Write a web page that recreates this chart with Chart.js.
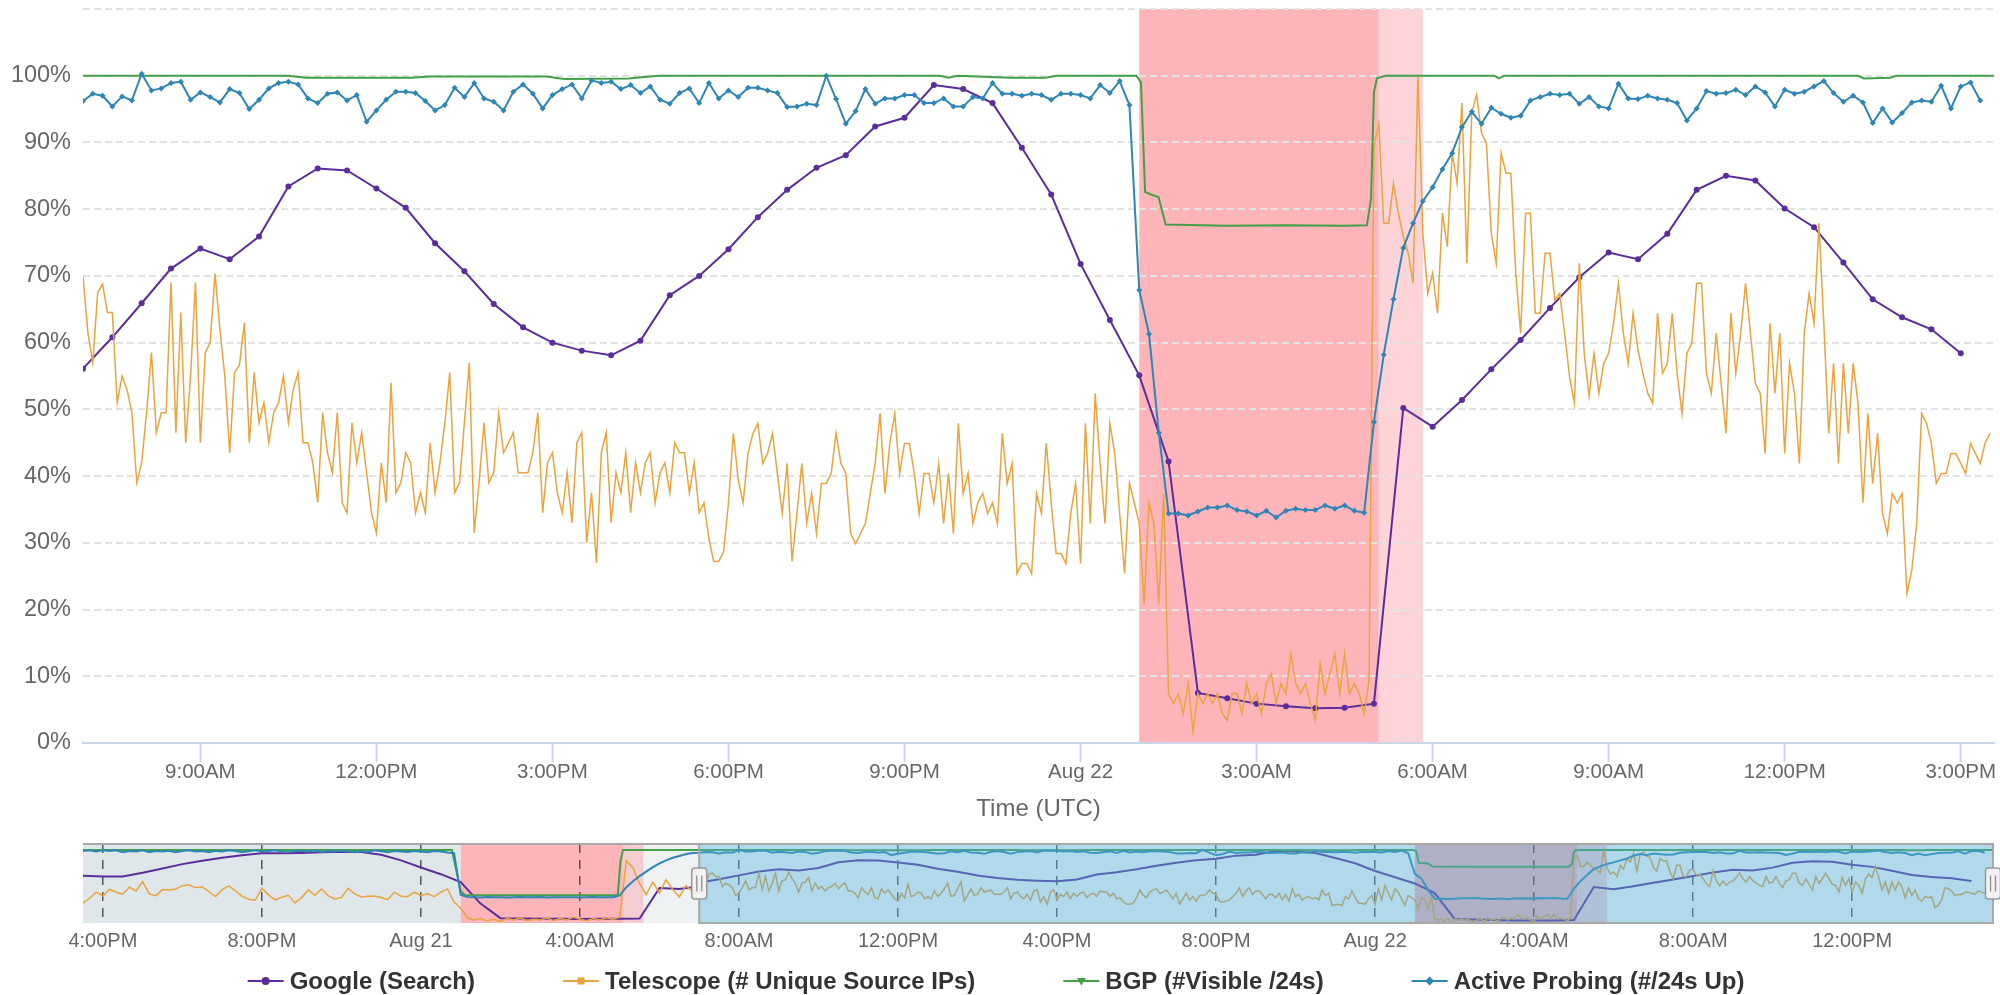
<!DOCTYPE html>
<html>
<head>
<meta charset="utf-8">
<title>IODA signals</title>
<script src="https://cdn.jsdelivr.net/npm/chart.js@4.4.1/dist/chart.umd.min.js"></script>
<style>
  html, body { margin: 0; padding: 0; background: #fff; }
  #wrap { position: relative; width: 2000px; height: 995px; overflow: hidden; }
  #main { position: absolute; left: 0; top: 0; }
  #nav { position: absolute; left: 0; top: 830px; }
</style>
</head>
<body>
<div id="wrap">
  <canvas id="main" width="2000" height="830"></canvas>
  <canvas id="nav" width="2000" height="165"></canvas>
</div>
<script>
// all times are hours counted from Aug 21 00:00 UTC (negative = Aug 20)
const mainStart = 7;        // Aug 21 07:00
const mainEnd = 39.567;     // Aug 22 ~15:34
const navStart = -8.5;      // Aug 20 15:30

const mainTickValues = [9, 12, 15, 18, 21, 24, 27, 30, 33, 36, 39];
const mainTickLabels = ['9:00AM', '12:00PM', '3:00PM', '6:00PM', '9:00PM', 'Aug 22', '3:00AM', '6:00AM', '9:00AM', '12:00PM', '3:00PM'];
const navTickValues = [-8, -4, 0, 4, 8, 12, 16, 20, 24, 28, 32, 36];
const navTickLabels = ['4:00PM', '8:00PM', 'Aug 21', '4:00AM', '8:00AM', '12:00PM', '4:00PM', '8:00PM', 'Aug 22', '4:00AM', '8:00AM', '12:00PM'];

// outage periods: start, end, end of recovery
const outages = [[1.0, 5.08, 5.6], [25.0, 29.083, 29.833]];

const seriesNames = ['Google (Search)', 'Telescope (# Unique Source IPs)', 'BGP (#Visible /24s)', 'Active Probing (#/24s Up)'];

// Google (Search), every 30 min from Aug 21 07:00
const googleValues = [
  56.1, 60.8, 65.9, 71.1, 74.1, 72.5, 75.9, 83.4, 86.1, 85.8,
  83.1, 80.2, 74.9, 70.7, 65.8, 62.3, 60.0, 58.8, 58.1, 60.3,
  67.1, 70.0, 74.0, 78.8, 82.9, 86.2, 88.1, 92.4, 93.7, 98.6,
  98.0, 95.9, 89.2, 82.2, 71.8, 63.4, 55.1, 42.2, 7.5, 6.7,
  5.9, 5.5, 5.2, 5.3, 5.9, 50.2, 47.4, 51.4, 56.0, 60.4,
  65.2, 69.8, 73.5, 72.5, 76.3, 82.9, 85.0, 84.3, 80.1, 77.3,
  72.0, 66.5, 63.8, 62.0, 58.4
];

// Telescope, every 5 min from Aug 21 07:00
const telescopeValues = [
  69.9, 61.5, 57, 67.5, 68.8, 64.5, 64.5, 51, 55, 53,
  49.5, 39, 42, 49.5, 58.5, 46.5, 49.5, 49.5, 69, 46.5,
  64.5, 45, 55, 69, 45, 58.5, 60, 70.3, 62, 55,
  43.5, 55.5, 56.7, 63, 45, 55.5, 48, 51, 45, 49.5,
  51, 55, 48, 53, 55.5, 45, 45, 42, 36, 49.5,
  43.5, 40.5, 49.5, 36, 34.5, 48, 42, 46.5, 40.5, 34.5,
  31.5, 42, 36, 54, 37.5, 39, 43.5, 42, 34.5, 37.5,
  34.5, 45, 37.5, 42, 48, 55.5, 37.5, 39, 48, 57,
  31.5, 39, 48, 39, 40.5, 49.5, 43.5, 45, 46.5, 40.5,
  40.5, 40.5, 43.5, 49.5, 34.5, 42, 43.5, 37.5, 34.5, 40.5,
  33, 45, 46.5, 30, 37.5, 27, 43.5, 46.5, 33, 40.5,
  37.5, 43.5, 34.5, 42, 37.5, 42, 43.5, 36, 40.5, 42,
  37.5, 45, 43.5, 43.5, 37.5, 42, 34.5,
  // 17:35
  36, 30.5, 27.2, 27.2, 28.7, 36, 46.4, 39.4, 36, 43.4,
  46.4, 47.9, 41.9, 43.4, 46.4, 40.4, 34.4, 41.9, 27.2, 34.4,
  41.9, 32.9, 37.4, 31.4, 38.9, 38.9, 40.4, 46.4, 41.9, 40.4,
  31.4, 29.9, 31.4, 32.9, 37.4, 41.9, 49.4, 37.4, 44.9, 49.4,
  40.4, 44.9, 44.9, 40.4, 34.4, 40.4, 40.4, 36, 41.9, 32.9,
  40.4, 31.4, 47.9, 37.4, 40.4, 32.9, 36, 37.4, 34.4, 36,
  32.9, 46.4, 38.9, 41.9, 25.4, 26.9, 26.9, 25.4, 37.4, 34.4,
  44.9, 36, 28.4, 28.4, 26.9, 34.4, 38.9, 26.9, 47.9, 32.9,
  52.4, 41.9, 32.9, 47.9, 43.4, 34.4, 25.4, 38.9, 36, 32.9,
  20.9, 36, 32.9, 20.9, 37.4, 7.4, 5.9, 7.4, 4.4, 8.9,
  1.7, 7.4, 5.9, 7.4, 5.9, 7.4, 4.4, 3.4, 7.4, 7.4,
  4.4, 8.9, 5.9, 7.4, 4.4, 8.9, 10.4, 5.9, 8.9, 7.4,
  13.4, 8.9, 7.4, 8.9, 5.9, 3.4, 11.9, 7.4, 10.4, 13.4,
  7.4, 13.4, 7.4,
  // 04:40
  8.9, 7.4, 4.4, 9.4,
  // 05:00
  89.4, 92.8, 77.9, 77.9, 83.8, 79.4, 75.9, 73.4, 68.9, 100.1,
  76.4, 67.4, 70.4, 64.4, 79.4, 74.4, 88.4, 83.9, 95.9, 71.9,
  94.4, 97.2, 91.4, 89.9, 76.4, 71.9, 88.4, 85.4, 85.4, 70.4,
  61.4, 79.4, 79.4, 64.4, 64.4, 73.4, 73.4, 66.4, 67.4, 61.4,
  54.9, 50.9, 71.9, 58.4, 52, 58.4, 52.4, 56.9, 58.4, 62.9,
  68.9, 61.4, 56.9, 64.4, 58.9, 55.4, 52.4, 50.9, 64.4, 55.4,
  56.9, 64.4, 55.4, 49.4, 58.4, 59.9, 68.9, 68.9, 55.4, 52.4,
  61.4, 53.9, 46.4, 64.4, 55.4, 61.4, 68.9, 61.4, 53.9, 52.4,
  43.4, 62.9, 52.4, 61.4, 43.4, 56.9, 52.4, 41.9, 61.4, 67.4,
  62.9, 77.9, 62.9, 46.4, 56.9, 41.9, 56.9, 46.4, 56.9, 50.9,
  36, 49.4, 38.9, 46.4, 34.4, 31.4, 37.4, 36, 37.4, 22.4,
  25.9, 32.9, 49.4, 47.9, 44.9, 38.9, 40.4, 40.4, 43.4, 43.4,
  41.9, 40.4, 44.9, 43.4, 41.9, 45, 46.4
];

// BGP, irregular samples (hour, value)
const bgpTimes = [7.0, 10.5, 10.8, 12.6, 12.9, 14.9, 15.2, 16.3, 16.8, 21.6, 21.75, 21.9, 22.8, 23.4, 23.6,
  24.95, 25.03, 25.1, 25.2, 25.33, 25.45, 26.5, 27.5, 28.5, 28.88, 28.95, 29.0, 29.05, 29.2,
  31.05, 31.13, 31.22, 37.25, 37.35, 37.8, 37.9, 39.567];
const bgpValues = [100, 100, 99.7, 99.7, 99.9, 99.9, 99.5, 99.6, 100, 100, 99.7, 100, 99.7, 99.7, 100,
  100, 99, 82.6, 82.2, 81.8, 77.7, 77.5, 77.6, 77.5, 77.6, 81.5, 97.5, 99.6, 100,
  100, 99.6, 100, 100, 99.6, 99.7, 100, 100];

// Active Probing, every 10 min from Aug 21 07:00
const probingValues = [
  96.2, 97.3, 97.0, 95.4, 96.9, 96.3, 100.3, 97.8, 98.1, 98.9, 99.1, 96.4,
  97.5, 96.8, 96.0, 98.0, 97.4, 95.0, 96.4, 98.1, 98.9, 99.1, 98.7, 96.6,
  95.9, 97.3, 97.5, 96.3, 97.1, 93.1, 94.8, 96.4, 97.6, 97.6, 97.4, 96.2,
  94.8, 95.6, 98.2, 96.8, 98.9, 96.6, 96.1, 94.8, 97.6, 98.7, 97.3, 95.1,
  97.1, 98.0, 98.7, 96.6, 99.3, 98.9, 99.1, 98.0, 98.6, 97.4,
  98.4, 96.4, 95.8, 97.4, 98.1, 95.9, 98.9, 96.6, 97.8, 96.8, 98.2, 98.2,
  97.8, 97.4, 95.3, 95.4, 95.8, 95.6, 100.0, 96.5, 92.8, 94.7, 98.0, 95.8,
  96.6, 96.6, 97.1, 97.1, 95.9, 95.9, 96.6, 95.4, 95.4, 96.8, 96.6, 98.9,
  97.3, 97.3, 97.0, 97.3, 97.1, 96.4, 97.3, 97.3,
  // Aug 22 00:00
  97.1, 96.6, 98.6, 97.4, 99.2, 95.6, 67.9, 61.3, 46.5, 34.4, 34.4, 34.1,
  34.7, 35.3, 35.3, 35.6, 34.9, 34.7, 34.1, 34.8, 33.8, 34.8, 35.1, 34.9,
  34.9, 35.6, 35.1, 35.6, 34.8, 34.5,
  // 05:00
  48.1, 58.2, 66.5, 74.2, 77.9, 81.2, 83.3, 86.0, 88.4, 92.3, 94.6, 92.8,
  95.2, 94.3, 93.7, 94.0, 96.3, 96.8, 97.3, 97.1, 97.3, 95.8, 96.8, 95.4,
  95.1, 98.8, 96.6, 96.5, 97.0, 96.6, 96.4, 95.9, 93.3, 95.1, 97.7, 97.3,
  97.4, 97.9, 97.1, 98.4, 97.5, 95.4, 97.9, 97.3, 97.6, 98.4, 99.2, 97.4,
  96.1, 97.0, 96.0, 92.9, 95.1, 93.0, 94.4, 96.0, 96.3, 96.1, 98.5, 95.1,
  98.4, 99.0, 96.3
];

// navigator only: Aug 20 15:30 to Aug 21 07:00
const navGooglePre = [65.5, 64.5, 64.5, 69.5, 75, 81, 85.5, 89.5, 93, 95.5, 95.5, 96, 97, 97.7, 97.3,
  93.5, 86, 76.5, 67.5, 57, 28, 8.5, 8, 7.8, 7.6, 7.5, 7.6, 7.8, 8, 49, 47.5, 51];
const navTelescopePre = [
  28.5, 35.2, 43.3, 38.3, 47.3, 43.3, 40.6, 50, 45, 57.5,
  41, 38.7, 46.8, 46.4, 47.7, 52.1, 53, 49.5, 50.4, 44.1,
  37.4, 46.4, 51.7, 45, 37.9, 33.9, 32.5, 48.6, 39.7, 33,
  36.6, 39.2, 29, 36.1, 46.4, 39.2, 47.7, 38.7, 34.3, 36.1,
  48.6, 41, 37, 37.9, 38.3, 36.1, 33.4, 43.3, 37.9, 37.4,
  43.3, 38.7, 41.4, 37.4, 43.3, 47.7, 30,
  22, 9, 6, 8, 5, 7, 4, 8, 6, 9, 5, 7, 6, 9, 5, 8, 6, 10, 7, 5, 8, 6, 9, 7,
  10, 86, 76, 55, 40, 57, 42, 60, 47, 37, 52, 44
];
const navBgpTimes = [-8.5, 0.78, 0.9, 1.0, 1.1, 3.0, 4.95, 5.02, 5.08, 6.9];
const navBgpValues = [100, 99.8, 70, 45, 39.5, 39.3, 39.5, 85, 100, 100];
const navProbingPre = [
  98.7, 99.6, 97.8, 99.6, 98.7, 99.6, 96.9, 98.7, 97.8, 99.6,
  96.9, 98.7, 97.8, 98.9, 96.9, 98.7, 99.6, 97.8, 98.7, 96.9,
  98.9, 97.8, 99.6, 98.7, 96.9, 98.2, 99.6, 97.8, 98.7, 99.6,
  97.8, 96.9, 98.9, 98.7, 97.8, 99.6, 96.9, 98.7, 97.8, 98.9,
  97.8, 96.9, 98.7, 97.4, 99.6, 98.2, 96.9, 98.7, 97.8, 97.4,
  98.7, 97.8, 96.9, 98.7, 97.8, 96.5, 95.6,
  40, 37.0, 36.6, 36.3, 36.8, 36.4, 36.7, 36.2, 36.6, 36.9, 36.4, 36.5,
  36.8, 36.3, 36.6, 36.4, 36.7, 36.5, 36.2, 36.6, 36.8, 36.4, 36.5, 36.6,
  39, 50, 58, 65, 71, 77, 82, 86, 89.5, 92, 94.5, 96
];

const PURPLE = '#5b2d9c', ORANGE = '#eaa33f', GREEN = '#43a047', BLUE = '#2e86b7';
const legendShapes = ['circle', 'square', 'triangle', 'diamond'];

Chart.defaults.font.family = '"Liberation Sans", Arial, Helvetica, sans-serif';

function series(start, step, values) {
  return values.map((v, i) => ({ x: start + i * step, y: v }));
}
function pairs(times, values) {
  return times.map((t, i) => ({ x: t, y: values[i] }));
}

// shade outage periods behind the grid
const mainBands = {
  id: 'mainBands',
  beforeDraw(chart) {
    const { ctx, chartArea: a, scales: { x } } = chart;
    const band = (from, to, color) => {
      const l = x.getPixelForValue(from), r = x.getPixelForValue(to);
      ctx.fillStyle = color;
      ctx.fillRect(l, a.top, r - l, a.bottom - a.top);
    };
    ctx.save();
    ctx.beginPath();
    ctx.rect(a.left, a.top, a.right - a.left, a.bottom - a.top);
    ctx.clip();
    outages.forEach(([s, e, r]) => {
      band(s, e, '#fdb5ba');
      band(e, r, '#fed4d9');
    });
    ctx.restore();
  }
};

new Chart(document.getElementById('main'), {
  type: 'line',
  data: {
    datasets: [
      { label: seriesNames[0], data: series(7, 0.5, googleValues), borderColor: PURPLE, backgroundColor: PURPLE,
        borderWidth: 2, pointRadius: 3, pointBorderWidth: 0, order: 4 },
      { label: seriesNames[1], data: series(7, 1 / 12, telescopeValues), borderColor: ORANGE,
        borderWidth: 1.5, pointRadius: 0, order: 3 },
      { label: seriesNames[2], data: pairs(bgpTimes, bgpValues), borderColor: GREEN,
        borderWidth: 2, pointRadius: 0, order: 2 },
      { label: seriesNames[3], data: series(7, 1 / 6, probingValues), borderColor: BLUE, backgroundColor: BLUE,
        borderWidth: 2, pointRadius: 3, pointStyle: 'rectRot', pointBorderWidth: 0, order: 1 }
    ]
  },
  options: {
    responsive: false,
    animation: false,
    devicePixelRatio: 1,
    events: [],
    layout: { padding: { top: 9, right: 6, left: 0, bottom: 0 } },
    plugins: { legend: { display: false }, tooltip: { enabled: false } },
    scales: {
      x: {
        type: 'linear', min: mainStart, max: mainEnd,
        afterBuildTicks: s => { s.ticks = mainTickValues.map(v => ({ value: v })); },
        afterFit: s => { s.height = 87; s.paddingLeft = 0; s.paddingRight = 0; },
        ticks: { callback: (v, i) => mainTickLabels[i], color: '#666', font: { size: 20.5, lineHeight: 1 },
          padding: 0, autoSkip: false, maxRotation: 0 },
        grid: { drawOnChartArea: false, drawTicks: true, tickLength: 19, tickColor: '#ccd6eb', tickWidth: 2 },
        border: { display: true, color: '#ccd6eb', width: 2 },
        title: { display: true, text: 'Time (UTC)', color: '#666', font: { size: 24 }, padding: { top: 0, bottom: 6 } }
      },
      y: {
        min: 0, max: 110,
        afterFit: s => { s.width = 83; s.paddingTop = 0; s.paddingBottom = 0; },
        ticks: { stepSize: 10, callback: v => (v === 110 ? '' : v + '%'), color: '#666', font: { size: 23.5 }, padding: 12 },
        grid: { color: c => (c.tick.value === 0 ? 'rgba(0,0,0,0)' : '#e3e3e3'), lineWidth: 2, drawTicks: false },
        border: { display: false, dash: [7, 4] }
      }
    }
  },
  plugins: [mainBands]
});

// navigator: backdrop, selection mask, outline, handles and legend
function drawHandle(ctx, cx, cy) {
  const w = 15, h = 31;
  ctx.fillStyle = '#f2f2f2';
  ctx.strokeStyle = '#999';
  ctx.lineWidth = 1.5;
  ctx.beginPath();
  ctx.roundRect(cx - w / 2, cy - h / 2, w, h, 3);
  ctx.fill();
  ctx.stroke();
  ctx.beginPath();
  ctx.moveTo(cx - 2.5, cy - 8); ctx.lineTo(cx - 2.5, cy + 8);
  ctx.moveTo(cx + 2.5, cy - 8); ctx.lineTo(cx + 2.5, cy + 8);
  ctx.stroke();
}

function drawSymbol(ctx, shape, color, x, y) {
  ctx.strokeStyle = color;
  ctx.fillStyle = color;
  ctx.lineWidth = 2;
  ctx.beginPath();
  ctx.moveTo(x, y); ctx.lineTo(x + 36, y);
  ctx.stroke();
  const cx = x + 18;
  ctx.beginPath();
  if (shape === 'circle') ctx.arc(cx, y, 4, 0, Math.PI * 2);
  else if (shape === 'square') ctx.rect(cx - 3.5, y - 3.5, 7, 7);
  else if (shape === 'triangle') { ctx.moveTo(cx - 4.5, y - 3); ctx.lineTo(cx + 4.5, y - 3); ctx.lineTo(cx, y + 4.5); ctx.closePath(); }
  else { ctx.moveTo(cx, y - 4.5); ctx.lineTo(cx + 4.5, y); ctx.lineTo(cx, y + 4.5); ctx.lineTo(cx - 4.5, y); ctx.closePath(); }
  ctx.fill();
}

const navDecor = {
  id: 'navDecor',
  beforeDraw(chart) {
    const { ctx, chartArea: a, scales: { x } } = chart;
    const band = (from, to, color) => {
      const l = x.getPixelForValue(from), r = x.getPixelForValue(to);
      ctx.fillStyle = color;
      ctx.fillRect(l, a.top, r - l, a.bottom - a.top);
    };
    ctx.save();
    band(navStart, outages[0][0], '#e0e7ea');
    band(outages[0][2], mainStart, '#eef2f3');
    outages.forEach(([s, e, r], i) => {
      band(s, e, '#fdb5ba');
      band(e, r, i === 0 ? '#f3cdd1' : '#fed4d9');
    });
    ctx.restore();
  },
  afterDatasetsDraw(chart) {
    const { ctx, chartArea: a, scales: { x } } = chart;
    const l = x.getPixelForValue(mainStart), r = x.getPixelForValue(mainEnd);
    ctx.save();
    ctx.fillStyle = 'rgba(80,170,210,0.45)';
    ctx.fillRect(l, a.top, r - l, a.bottom - a.top);
    ctx.strokeStyle = '#a8a8a8';
    ctx.lineWidth = 2;
    ctx.beginPath();
    ctx.moveTo(a.left, a.top); ctx.lineTo(l, a.top);
    ctx.stroke();
    ctx.strokeRect(l, a.top, r - l - 1, a.bottom - a.top);
    const cy = (a.top + a.bottom) / 2;
    drawHandle(ctx, l, cy);
    drawHandle(ctx, r - 1, cy);
    ctx.restore();
  },
  afterDraw(chart) {
    const ctx = chart.ctx;
    const names = chart.data.datasets.map(d => d.label);
    const colors = chart.data.datasets.map(d => d.borderColor);
    ctx.save();
    ctx.font = 'bold 24px "Liberation Sans", Arial, Helvetica, sans-serif';
    ctx.textBaseline = 'middle';
    const widths = names.map(t => ctx.measureText(t).width);
    const total = widths.reduce((s, w) => s + 42 + w, 0) + 88 * (names.length - 1);
    let px = 996 - total / 2;
    const py = 151;
    names.forEach((t, i) => {
      drawSymbol(ctx, legendShapes[i], colors[i], px, py);
      ctx.fillStyle = '#333';
      ctx.fillText(t, px + 42, py + 1);
      px += 42 + widths[i] + 88;
    });
    ctx.restore();
  }
};

new Chart(document.getElementById('nav'), {
  type: 'line',
  data: {
    datasets: [
      { label: seriesNames[0], data: series(navStart, 0.5, navGooglePre).concat(series(7, 0.5, googleValues)),
        borderColor: PURPLE, borderWidth: 2, pointRadius: 0, order: 4 },
      { label: seriesNames[1], data: series(navStart, 1 / 6, navTelescopePre).concat(series(7, 1 / 12, telescopeValues)),
        borderColor: ORANGE, borderWidth: 1.5, pointRadius: 0, order: 3 },
      { label: seriesNames[2], data: pairs(navBgpTimes, navBgpValues).concat(pairs(bgpTimes, bgpValues)),
        borderColor: GREEN, borderWidth: 2, pointRadius: 0, order: 2 },
      { label: seriesNames[3], data: series(navStart, 1 / 6, navProbingPre).concat(series(7, 1 / 6, probingValues)),
        borderColor: BLUE, borderWidth: 2, pointRadius: 0, order: 1 }
    ]
  },
  options: {
    responsive: false,
    animation: false,
    devicePixelRatio: 1,
    events: [],
    layout: { padding: { top: 14, right: 6, left: 83, bottom: 0 } },
    plugins: { legend: { display: false }, tooltip: { enabled: false } },
    scales: {
      x: {
        type: 'linear', min: navStart, max: mainEnd,
        afterBuildTicks: s => { s.ticks = navTickValues.map(v => ({ value: v })); },
        afterFit: s => { s.height = 72; s.paddingLeft = 0; s.paddingRight = 0; },
        ticks: { callback: (v, i) => navTickLabels[i], color: '#666', font: { size: 20 }, padding: 6,
          autoSkip: false, maxRotation: 0 },
        grid: { color: 'rgba(60,60,60,0.85)', lineWidth: 1.5, drawTicks: false },
        border: { display: false, dash: [9, 7] }
      },
      y: { display: false, min: 2, max: 108 }
    }
  },
  plugins: [navDecor]
});
</script>
</body>
</html>
